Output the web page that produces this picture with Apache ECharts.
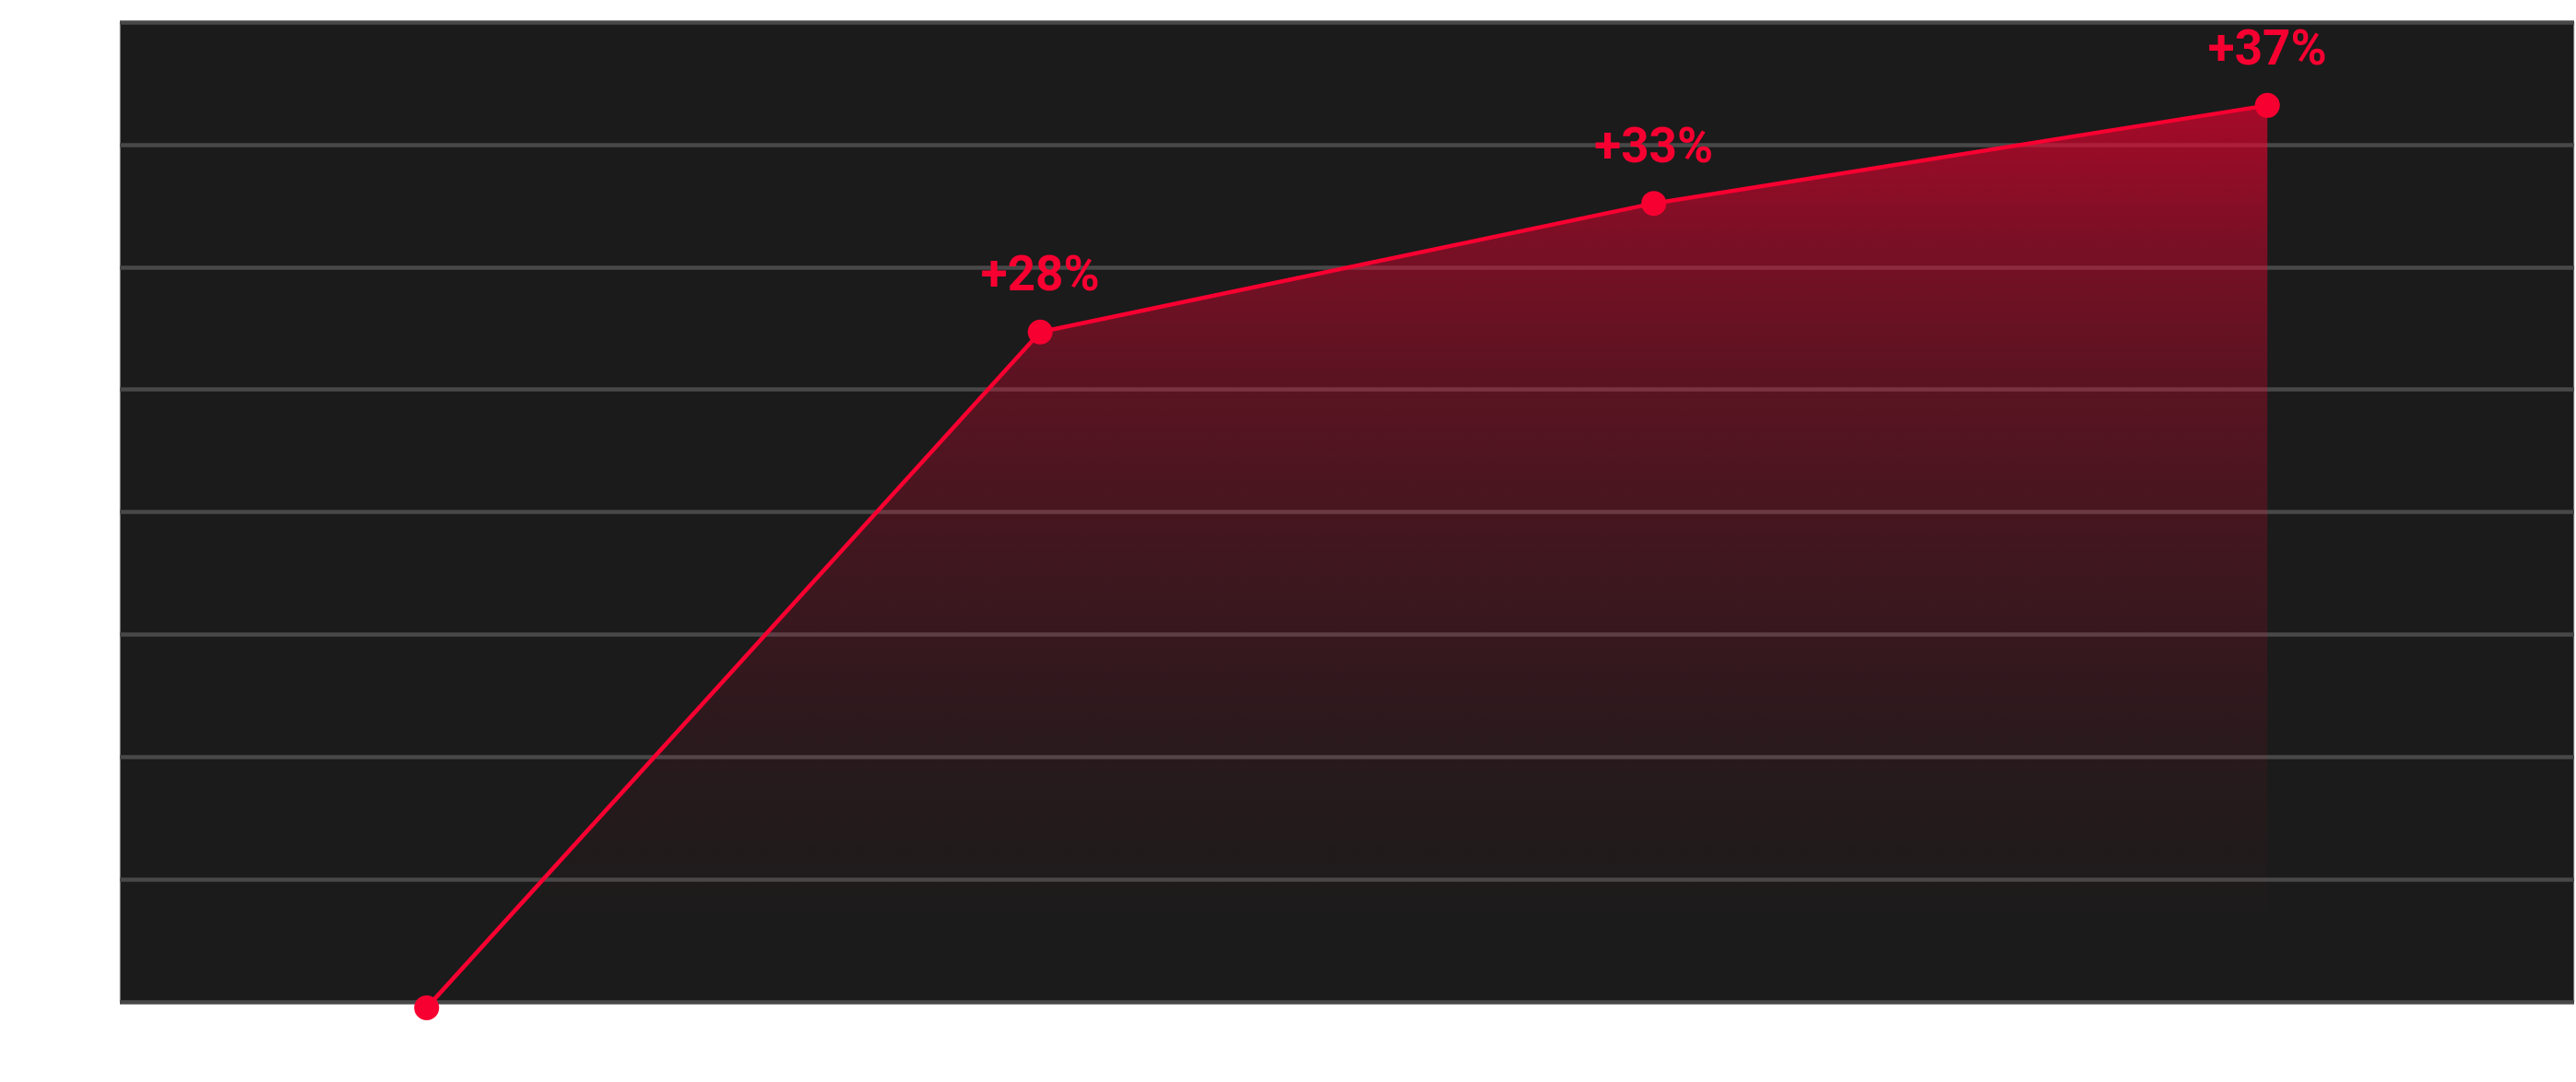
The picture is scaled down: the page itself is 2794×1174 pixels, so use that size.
<!DOCTYPE html>
<html>
<head>
<meta charset="utf-8">
<script src="https://cdn.jsdelivr.net/npm/echarts@6/dist/echarts.min.js"></script>
<style>
html,body{margin:0;padding:0;background:#ffffff;}
#chart{width:2794px;height:1174px;}
</style>
</head>
<body>
<div id="chart"></div>
<script>
const categories = ["P1", "P2", "P3", "P4"];
const values = [-0.24, 27.35, 32.6, 36.6];
const labels = ["", "+28%", "+33%", "+37%"];
const yTicks = { min: 0, max: 40, interval: 5 };

const chart = echarts.init(document.getElementById('chart'));
const red = '#f70031';
chart.setOption({
  animation: false,
  backgroundColor: '#ffffff',
  grid: {
    show: true,
    left: 130, right: 2, top: 24, bottom: 87,
    backgroundColor: '#1b1b1b',
    borderColor: '#cccccc',
    borderWidth: 1
  },
  xAxis: {
    type: 'category',
    data: categories,
    boundaryGap: true,
    axisLine: { show: false },
    axisTick: { show: false },
    axisLabel: { show: false },
    splitLine: { show: false }
  },
  yAxis: {
    type: 'value',
    min: yTicks.min, max: yTicks.max, interval: yTicks.interval,
    axisLine: { show: false },
    axisTick: { show: false },
    axisLabel: { show: false },
    splitLine: { show: true, lineStyle: { color: '#484848', width: 4.5 } }
  },
  series: [{
    type: 'line',
    data: values,
    clip: false,
    symbol: 'circle',
    symbolSize: 27,
    lineStyle: { color: red, width: 4.5 },
    itemStyle: { color: red },
    areaStyle: {
      origin: 'start',
      color: new echarts.graphic.LinearGradient(0, 0, 0, 1, [
        { offset: 0, color: 'rgba(247,0,49,0.9)' },
        { offset: 0.15, color: 'rgba(247,0,49,0.62)' },
        { offset: 0.3, color: 'rgba(247,0,49,0.42)' },
        { offset: 0.5, color: 'rgba(247,0,49,0.24)' },
        { offset: 0.75, color: 'rgba(247,0,49,0.07)' },
        { offset: 0.92, color: 'rgba(247,0,49,0)' },
        { offset: 1, color: 'rgba(247,0,49,0)' }
      ])
    },
    label: {
      show: true,
      position: 'top',
      distance: 18,
      color: red,
      fontFamily: 'Roboto',
      fontWeight: 'bold',
      fontSize: 53,
      formatter: p => labels[p.dataIndex]
    }
  }]
});
</script>
</body>
</html>
